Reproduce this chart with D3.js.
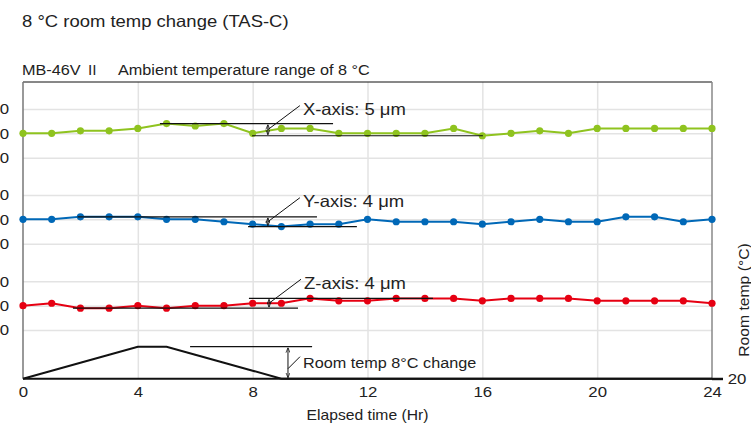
<!DOCTYPE html>
<html>
<head>
<meta charset="utf-8">
<script src="https://cdn.jsdelivr.net/npm/d3@7"></script>
<style>
  body { margin: 0; background: #fff; }
  svg { display: block; font-family: "Liberation Sans", Arial, Helvetica, sans-serif; }
</style>
</head>
<body>
<script>
// Data (hourly, μm deviation / °C)
var hours = [0,1,2,3,4,5,6,7,8,9,10,11,12,13,14,15,16,17,18,19,20,21,22,23,24];
var xAxisUm = [0,0,1,1,2,4,3,4,0,2,2,0,0,0,0,2,-1,0,1,0,2,2,2,2,2];
var yAxisUm = [0,0,1,1,1,0,0,-1,-2,-3,-2,-2,0,-1,-1,-1,-2,-1,0,-1,-1,1,1,-1,0];
var zAxisUm = [0,1,-1,-1,0,-1,0,0,1,1,3,2,2,3,3,3,2,3,3,3,2,2,2,2,1];
var roomTemp = [20,22,24,26,28,28,26,24,22,20,20,20,20,20,20,20,20,20,20,20,20,20,20,20,20];
var xTicks = [0,4,8,12,16,20,24];
var umTicks = [-10,0,10];
var seriesNames = ["X-axis: 5 μm", "Y-axis: 4 μm", "Z-axis: 4 μm"];
var colors = ["#8fc31f", "#0068b7", "#e60012"];

var W = 751, H = 427;
var plotLeft = 23, plotRight = 712, plotTop = 82, plotBottom = 378.7;
var sx = 1.12; // text in the source is drawn a bit wide

var svg = d3.select("body").append("svg")
    .attr("width", W)
    .attr("height", H);

function label(x, y, size, str, anchor) {
    return svg.append("text")
        .attr("transform", "translate(" + x + "," + y + ") scale(" + sx + ",1)")
        .attr("text-anchor", anchor || "start")
        .attr("font-size", size)
        .attr("fill", "#222")
        .text(str);
}

// Titles
label(22, 27, 16.5, "8 °C room temp change (TAS-C)");
var sub = label(22, 75, 14.5, "MB-46V ");
sub.append("tspan").attr("font-family", "Noto Sans CJK JP").attr("font-size", 13).text("Ⅱ");
label(118, 75, 14.5, "Ambient temperature range of 8 °C");

// Scales
var x = d3.scaleLinear().domain([0, 24]).range([plotLeft, plotRight]);
var centers = [133.3, 219.3, 305.7];
var pxPer10 = 24.4;
var yScales = centers.map(function(c) {
    return d3.scaleLinear().domain([-10, 10]).range([c + pxPer10, c - pxPer10]);
});
var tempY = d3.scaleLinear().domain([20, 28]).range([plotBottom, 346.7]);

// Vertical gridlines
svg.append("g")
    .attr("transform", "translate(0," + plotBottom + ")")
    .call(d3.axisBottom(x).tickValues(xTicks.slice(1, -1))
        .tickSizeInner(-(plotBottom - plotTop)).tickSizeOuter(0).tickFormat(""))
    .call(function(g) {
        g.select(".domain").remove();
        g.selectAll("line").attr("stroke", "#e3e3e3").attr("stroke-width", 1.5);
    });

// Horizontal gridlines + left labels per panel
yScales.forEach(function(ys) {
    svg.append("g")
        .attr("transform", "translate(" + plotLeft + ",0)")
        .call(d3.axisLeft(ys).tickValues(umTicks)
            .tickSizeInner(-(plotRight - plotLeft)).tickSizeOuter(0).tickPadding(12.5))
        .call(function(g) {
            g.select(".domain").remove();
            g.selectAll("line").attr("stroke", "#e3e3e3").attr("stroke-width", 1.5);
            g.selectAll("text").attr("font-size", 15).attr("fill", "#222")
                .attr("font-family", "Liberation Sans, Arial, sans-serif")
                .attr("transform", "scale(" + sx + ",1)");
        });
});

// Frame
svg.append("line").attr("x1", plotLeft).attr("x2", plotRight).attr("y1", plotTop).attr("y2", plotTop)
    .attr("stroke", "#111").attr("stroke-width", 1);
svg.append("line").attr("x1", plotLeft).attr("x2", plotLeft).attr("y1", plotTop).attr("y2", plotBottom)
    .attr("stroke", "#777").attr("stroke-width", 1.5);

// Right axis (room temp)
svg.append("g")
    .attr("transform", "translate(" + plotRight + ",0)")
    .call(d3.axisRight(tempY).tickValues([20]).tickSizeInner(11).tickSizeOuter(0).tickPadding(3))
    .call(function(g) {
        g.select(".domain").attr("d", "M0," + plotTop + "V" + plotBottom)
            .attr("stroke", "#888").attr("stroke-width", 1.5);
        g.selectAll(".tick line").attr("stroke", "#111").attr("stroke-width", 2);
        g.selectAll("text").attr("font-size", 15).attr("fill", "#222")
            .attr("font-family", "Liberation Sans, Arial, sans-serif")
            .attr("transform", "scale(" + sx + ",1)");
    });

// Bottom axis
svg.append("g")
    .attr("transform", "translate(0," + plotBottom + ")")
    .call(d3.axisBottom(x).tickValues(xTicks).tickSize(0).tickPadding(8))
    .call(function(g) {
        g.select(".domain").remove();
        g.selectAll("text").attr("font-size", 15).attr("fill", "#222")
            .attr("font-family", "Liberation Sans, Arial, sans-serif")
            .attr("transform", "scale(" + sx + ",1)");
    });

// Room temp profile
var tempLine = d3.line().x(function(d, i) { return x(hours[i]); }).y(function(d) { return tempY(d); });
svg.append("path").datum(roomTemp)
    .attr("d", tempLine)
    .attr("fill", "none").attr("stroke", "#111").attr("stroke-width", 2);

svg.append("line").attr("x1", plotLeft).attr("x2", plotRight + 11).attr("y1", plotBottom).attr("y2", plotBottom)
    .attr("stroke", "#111").attr("stroke-width", 2);

// Series
var series = [xAxisUm, yAxisUm, zAxisUm];
series.forEach(function(vals, k) {
    var ys = yScales[k];
    var line = d3.line().x(function(d, i) { return x(hours[i]); }).y(function(d) { return ys(d); });
    svg.append("path").datum(vals)
        .attr("d", line)
        .attr("fill", "none").attr("stroke", colors[k]).attr("stroke-width", 2);
    svg.selectAll(".dot" + k)
        .data(vals)
      .enter().append("circle")
        .attr("cx", function(d, i) { return x(hours[i]); })
        .attr("cy", function(d) { return ys(d); })
        .attr("r", 3.6)
        .attr("fill", colors[k]);
});

// Range annotations (hours for extents of the reference lines)
var defs = svg.append("defs");
defs.append("marker")
    .attr("id", "ah")
    .attr("viewBox", "0 0 10 10").attr("refX", 10).attr("refY", 5)
    .attr("markerWidth", 5).attr("markerHeight", 5)
    .attr("orient", "auto-start-reverse")
  .append("path").attr("d", "M0,1L10,5L0,9").attr("fill", "none").attr("stroke", "#111").attr("stroke-width", 1.5);

var notes = [
    {ys: yScales[0], hi: 4, lo: -1, hiFrom: 4.77, hiTo: 10.8, loFrom: 7.98, loTo: 16.02, arrow: 8.53, label: seriesNames[0]},
    {ys: yScales[1], hi: 1, lo: -3, hiFrom: 1.9, hiTo: 10.24, loFrom: 7.84, loTo: 11.63, arrow: 8.53, label: seriesNames[1]},
    {ys: yScales[2], hi: 3, lo: -1, hiFrom: 7.87, hiTo: 14.28, loFrom: 1.74, loTo: 9.58, arrow: 8.57, label: seriesNames[2]},
    {ys: tempY, hi: 28, lo: 20, hiFrom: 5.82, hiTo: 10.07, loFrom: null, loTo: null, arrow: 9.23, label: "Room temp 8°C change"}
];

notes.forEach(function(n, k) {
    var g = svg.append("g");
    var yHi = n.ys(n.hi), yLo = n.ys(n.lo);
    g.append("line").attr("x1", x(n.hiFrom)).attr("x2", x(n.hiTo)).attr("y1", yHi).attr("y2", yHi)
        .attr("stroke", "#111").attr("stroke-width", 1.2);
    if (n.loFrom !== null) {
        g.append("line").attr("x1", x(n.loFrom)).attr("x2", x(n.loTo)).attr("y1", yLo).attr("y2", yLo)
            .attr("stroke", "#111").attr("stroke-width", 1.2);
    }
    var ax = x(n.arrow);
    g.append("line").attr("x1", ax).attr("x2", ax).attr("y1", yHi + 1).attr("y2", yLo - 1)
        .attr("stroke", "#111").attr("stroke-width", 1)
        .attr("marker-start", "url(#ah)").attr("marker-end", "url(#ah)");
    var midY = (yHi + yLo) / 2;
    var isTemp = k === 3;
    var tx = ax + (isTemp ? 12 : 32);
    var ty = isTemp ? midY - 6 : midY - 24;
    g.append("line").attr("x1", ax).attr("x2", tx).attr("y1", isTemp ? midY + 6 : midY).attr("y2", ty)
        .attr("stroke", "#111").attr("stroke-width", 1);
    label(tx + 3, (isTemp ? midY : ty + 4) + 5.5, isTemp ? 14.5 : 16.5, n.label);
});

// Axis titles
label(x(12), 420, 14, "Elapsed time (Hr)", "middle");
svg.append("text")
    .attr("transform", "translate(749,300) rotate(-90) scale(" + sx + ",1)")
    .attr("text-anchor", "middle")
    .attr("font-size", 14).attr("fill", "#222")
    .text("Room temp (°C)");
</script>
</body>
</html>
